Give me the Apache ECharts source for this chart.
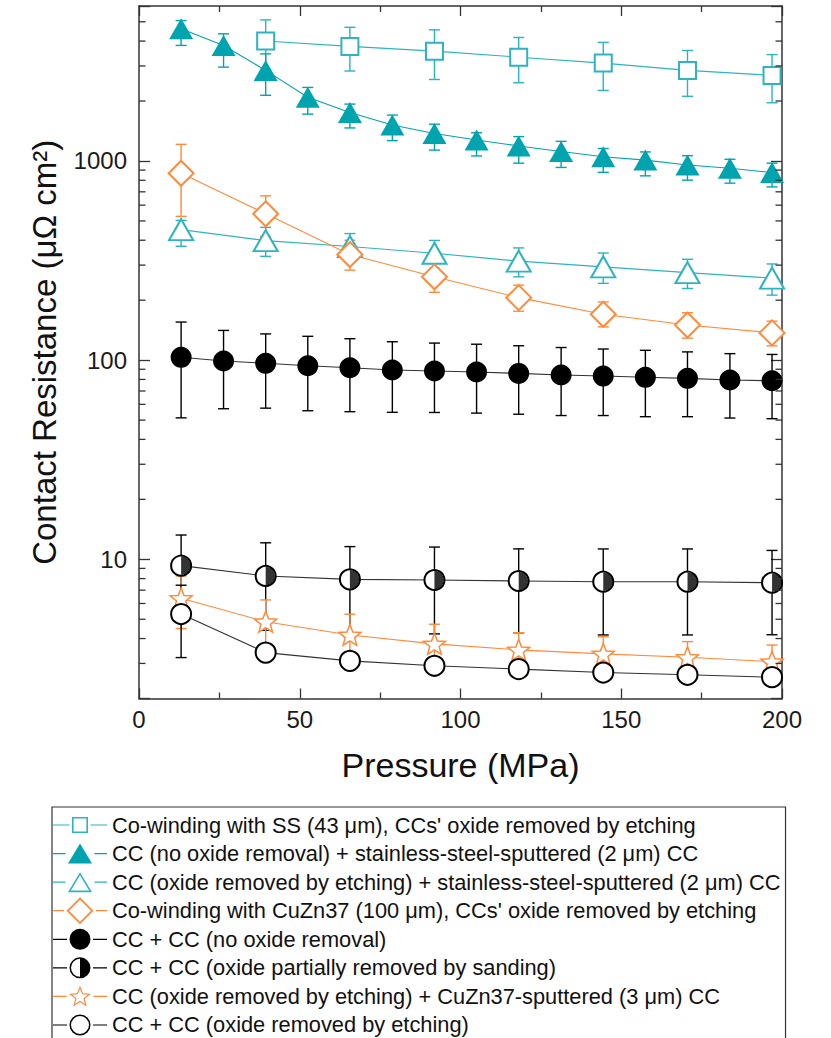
<!DOCTYPE html>
<html><head><meta charset="utf-8">
<script src="https://cdn.jsdelivr.net/npm/echarts@6/dist/echarts.min.js"></script>
<style>html,body{margin:0;padding:0;background:#fff}#c{width:831px;height:1038px}</style>
</head><body><div id="c"></div>
<script>
// ---------------- data ----------------
const pressureFull = [13.1, 26.3, 39.4, 52.5, 65.6, 78.8, 91.9, 105.0, 118.1, 131.3, 144.4, 157.5, 170.6, 183.8, 196.9];
const pressureSparse = [13.1, 39.4, 65.6, 91.9, 118.1, 144.4, 170.6, 196.9];
const pressureSS = [39.4, 65.6, 91.9, 118.1, 144.4, 170.6, 196.9];

const xTicks = [0, 50, 100, 150, 200];
const yMajorTicks = [10, 100, 1000];
const yMinorTicks = [3, 4, 5, 6, 7, 8, 9, 20, 30, 40, 50, 60, 70, 80, 90, 200, 300, 400, 500, 600, 700, 800, 900, 2000, 3000, 4000, 5000];

const names = [
  "Co-winding with SS (43 \u03bcm), CCs' oxide removed by etching",
  "CC (no oxide removal) + stainless-steel-sputtered (2 \u03bcm) CC",
  "CC (oxide removed by etching) + stainless-steel-sputtered (2 \u03bcm) CC",
  "Co-winding with CuZn37 (100 \u03bcm), CCs' oxide removed by etching",
  "CC + CC (no oxide removal)",
  "CC + CC (oxide partially removed by sanding)",
  "CC (oxide removed by etching) + CuZn37-sputtered (3 \u03bcm) CC",
  "CC + CC (oxide removed by etching)"
];

// 1 squares
const ssMean = [4000, 3760, 3560, 3320, 3100, 2850, 2690];
const ssUp   = [1110, 930, 995, 850, 840, 738, 730];
const ssDown = [1110, 930, 995, 850, 840, 738, 730];
// 2 filled triangles
const ssSputMean = [4610, 3800, 2850, 2090, 1750, 1515, 1375, 1275, 1190, 1115, 1050, 1010, 955, 920, 875];
const ssSputUp   = [460, 550, 600, 250, 180, 185, 155, 110, 135, 140, 105, 100, 108, 100, 100];
const ssSputDown = [806, 840, 713, 371, 285, 250, 241, 215, 215, 187, 173, 168, 154, 146, 134];
// 3 open triangles
const ssSputEtchMean = [452, 398, 372, 344, 314, 294, 275, 258];
const ssSputEtchUp   = [51, 66, 60, 55, 52, 51, 46, 46];
const ssSputEtchDown = [79, 66, 60, 55, 52, 51, 46, 46];
// 4 diamonds
const cuznMean = [868, 543, 339, 262, 206, 170, 150, 137];
const cuznUp   = [344, 125, 61, 45, 32, 26, 23, 20];
const cuznDown = [341, 125, 56, 43, 30, 23, 21, 19];
// 5 filled circles
const noRemovalMean = [103.3, 99, 96.4, 93.7, 91.6, 89.2, 88.2, 87.2, 85.8, 84.2, 83.2, 82.0, 81.0, 79.5, 78.8];
const noRemovalErr  = [52, 42, 39, 38, 36.5, 34.5, 33.6, 33, 32.3, 31.5, 30.5, 30, 29, 28.3, 28];
// 6 half-filled circles
const sandingMean = [9.29, 8.25, 7.93, 7.87, 7.78, 7.72, 7.72, 7.63];
const sandingErr  = [3.95, 3.85, 3.65, 3.65, 3.5, 3.55, 3.55, 3.45];
// 7 stars
const cuznSputMean = [6.37, 4.86, 4.17, 3.76, 3.51, 3.35, 3.22, 3.06];
const cuznSputErr  = [1.88, 1.39, 1.13, 0.96, 0.77, 0.74, 0.64, 0.65];
// 8 open circles
const etchMean = [5.31, 3.40, 3.09, 2.92, 2.81, 2.70, 2.63, 2.56];
const etchErr  = [2.1, 0.25, 0.2, 0.2, 0.2, 0.2, 0.2, 0.2];

// ---------------- styling ----------------
const FONT = "'Liberation Sans', Arial, Helvetica, sans-serif";
const CYAN = '#2db3c2';
const TEAL = '#00a4ae';
const ORANGE = '#ff8a3a';
const BLACK = '#000000';
const AXIS = '#333333';

function pts(xs, ys) { return xs.map((x, i) => [x, ys[i]]); }
function bars(xs, ys, up, down) { return xs.map((x, i) => [x, ys[i] - down[i], ys[i] + up[i]]); }

function errSeries(data, color) {
  return {
    type: 'custom', z: 1, silent: true, clip: false,
    encode: { x: 0, y: [1, 2] },
    data: data,
    renderItem: function (params, api) {
      const x = api.value(0), lo = api.value(1), hi = api.value(2);
      const a = api.coord([x, hi]), b = api.coord([x, lo]);
      const hw = 5.5, st = { stroke: color, lineWidth: 1.4 };
      return { type: 'group', children: [
        { type: 'line', shape: { x1: a[0], y1: a[1], x2: b[0], y2: b[1] }, style: st },
        { type: 'line', shape: { x1: a[0] - hw, y1: a[1], x2: a[0] + hw, y2: a[1] }, style: st },
        { type: 'line', shape: { x1: b[0] - hw, y1: b[1], x2: b[0] + hw, y2: b[1] }, style: st }
      ]};
    }
  };
}

// star path
function starPts(cx, cy, R, r) {
  const p = [];
  for (let i = 0; i < 10; i++) {
    const ang = -Math.PI / 2 + i * Math.PI / 5;
    const rad = i % 2 === 0 ? R : r;
    p.push([cx + rad * Math.cos(ang), cy + rad * Math.sin(ang)]);
  }
  return p;
}
function poly(p, ccw) {
  const q = ccw ? p.slice().reverse() : p;
  return 'M' + q.map(v => v[0].toFixed(2) + ' ' + v[1].toFixed(2)).join(' L') + ' Z';
}
const STAR_SYMBOL = 'path://' + poly(starPts(11, 11, 11, 4.7));

// legend icons in a 54 x 28 box
const IW = 54, IH = 28, CX = 27, CY = 14;
function anchors() { return `M0 0 L0.01 0 Z M${IW} ${IH} L${IW - 0.01} ${IH} Z `; }
function rect(x0, y0, x1, y1, ccw) {
  return ccw ? `M${x0} ${y0} L${x0} ${y1} L${x1} ${y1} L${x1} ${y0} Z ` : `M${x0} ${y0} L${x1} ${y0} L${x1} ${y1} L${x0} ${y1} Z `;
}
function stubs(hw) {
  return rect(0, CY - 0.6, CX - hw - 2.5, CY + 0.6) + rect(CX + hw + 2.5, CY - 0.6, IW, CY + 0.6);
}
function circ(r, ccw) {
  const s = ccw ? 0 : 1;
  return `M${CX - r} ${CY} A${r} ${r} 0 1 ${s} ${CX + r} ${CY} A${r} ${r} 0 1 ${s} ${CX - r} ${CY} Z `;
}
function scalePts(p, c, f) { return p.map(v => [c[0] + (v[0] - c[0]) * f, c[1] + (v[1] - c[1]) * f]); }
const triOuter = [[CX, 4], [CX + 12, 24], [CX - 12, 24]];
const diaOuter = [[CX, 0.5], [CX + 13.5, CY], [CX, 27.5], [CX - 13.5, CY]];
const starOuter = starPts(CX, CY + 0.8, 11.5, 5.0);
const starInner = starPts(CX, CY + 0.8, 8.3, 3.6);
const icons = [
  anchors() + stubs(8) + rect(19, 6, 35, 22) + rect(20.6, 7.6, 33.4, 20.4, true),
  anchors() + stubs(12) + poly(triOuter),
  anchors() + stubs(12) + poly(triOuter) + ' ' + poly(scalePts(triOuter, [CX, 17.2], 0.76), true),
  anchors() + stubs(13.5) + poly(diaOuter) + ' ' + poly(scalePts(diaOuter, [CX, CY], 0.81), true),
  anchors() + stubs(10.5) + circ(10.5),
  anchors() + stubs(10.5) + circ(10.5) + circ(9, true) + `M${CX} ${CY - 9} A9 9 0 0 1 ${CX} ${CY + 9} Z`,
  anchors() + stubs(11) + poly(starOuter) + ' ' + poly(starInner, true),
  anchors() + stubs(10.5) + circ(10.5) + circ(9, true)
].map(s => 'path://' + s);
const iconColors = [CYAN, TEAL, CYAN, ORANGE, BLACK, BLACK, ORANGE, BLACK];

function lineSeries(name, data, color, symbol, size, extra) {
  return Object.assign({
    name: name, type: 'line', z: 3, data: data, symbol: symbol, symbolSize: size,
    showAllSymbol: true, clip: false,
    lineStyle: { color: color, width: 1.1 },
    itemStyle: { color: color, borderColor: color, borderWidth: 1.5 },
    emphasis: { disabled: true }
  }, extra || {});
}

const series = [
  errSeries(bars(pressureSS, ssMean, ssUp, ssDown), CYAN),
  errSeries(bars(pressureFull, ssSputMean, ssSputUp, ssSputDown), TEAL),
  errSeries(bars(pressureSparse, ssSputEtchMean, ssSputEtchUp, ssSputEtchDown), CYAN),
  errSeries(bars(pressureSparse, cuznMean, cuznUp, cuznDown), ORANGE),
  errSeries(bars(pressureFull, noRemovalMean, noRemovalErr, noRemovalErr), BLACK),
  errSeries(bars(pressureSparse, sandingMean, sandingErr, sandingErr), BLACK),
  errSeries(bars(pressureSparse, cuznSputMean, cuznSputErr, cuznSputErr), ORANGE),
  errSeries(bars(pressureSparse, etchMean, etchErr, etchErr), BLACK),

  lineSeries(names[0], pts(pressureSS, ssMean), CYAN, 'emptyRect', 17),
  lineSeries(names[1], pts(pressureFull, ssSputMean), TEAL, 'triangle', [24, 21], { itemStyle: { color: TEAL } }),
  lineSeries(names[2], pts(pressureSparse, ssSputEtchMean), CYAN, 'emptyTriangle', [24, 21]),
  lineSeries(names[3], pts(pressureSparse, cuznMean), ORANGE, 'emptyDiamond', [25, 25]),
  lineSeries(names[4], pts(pressureFull, noRemovalMean), BLACK, 'circle', 21, { lineStyle: { color: '#333', width: 1.1 }, itemStyle: { color: BLACK } }),
  lineSeries(names[5], pts(pressureSparse, sandingMean), BLACK, 'emptyCircle', 20, { lineStyle: { color: '#333', width: 1.1 } }),
  lineSeries(names[6], pts(pressureSparse, cuznSputMean), ORANGE, STAR_SYMBOL, 22,
    { symbolKeepAspect: true, itemStyle: { color: '#ffffff', borderColor: ORANGE, borderWidth: 1.5 } }),
  lineSeries(names[7], pts(pressureSparse, etchMean), BLACK, 'emptyCircle', 20, { lineStyle: { color: '#333', width: 1.1 } }),
  // right half fill of partially sanded markers
  { type: 'scatter', z: 4, silent: true, clip: false, data: pts(pressureSparse, sandingMean),
    symbol: 'path://M0 0 A10 10 0 0 1 0 20 Z', symbolSize: [9.3, 18.6], symbolOffset: [4.65, 0],
    itemStyle: { color: BLACK } },
  // minor ticks of the log axis (left and right frame)
  { type: 'custom', z: 5, silent: true, clip: false,
    encode: { x: 0, y: 1 },
    data: yMinorTicks.map(v => [100, v]),
    renderItem: function (params, api) {
      const y = api.coord([100, api.value(1)])[1];
      const cs = params.coordSys;
      const st = { stroke: AXIS, lineWidth: 1.3 };
      return { type: 'group', children: [
        { type: 'line', shape: { x1: cs.x, y1: y, x2: cs.x + 6.5, y2: y }, style: st },
        { type: 'line', shape: { x1: cs.x + cs.width - 6.5, y1: y, x2: cs.x + cs.width, y2: y }, style: st }
      ]};
    }
  }
];

const xAxisBase = {
  type: 'value', min: xTicks[0], max: xTicks[xTicks.length - 1], interval: xTicks[1] - xTicks[0],
  axisLine: { show: true, onZero: false, lineStyle: { color: AXIS, width: 1.5 } },
  axisTick: { show: true, inside: true, length: 10, lineStyle: { color: AXIS, width: 1.3 } },
  minorTick: { show: true, splitNumber: 2, length: 6, lineStyle: { color: AXIS, width: 1.3 } },
  splitLine: { show: false }, minorSplitLine: { show: false }
};
const yAxisBase = {
  type: 'log', logBase: 10, min: 2, max: 6000,
  axisLine: { show: true, onZero: false, lineStyle: { color: AXIS, width: 1.5 } },
  axisTick: { show: true, inside: true, length: 11, lineStyle: { color: AXIS, width: 1.3 } },
  splitLine: { show: false }
};

const option = {
  animation: false,
  backgroundColor: '#ffffff',
  textStyle: { fontFamily: FONT },
  grid: { left: 139, right: 49, top: 6, bottom: 339.5, containLabel: false, outerBoundsMode: 'none' },
  xAxis: [
    Object.assign({}, xAxisBase, {
      position: 'bottom', name: 'Pressure (MPa)', nameLocation: 'middle', nameGap: 49,
      nameTextStyle: { fontSize: 34, color: '#111', fontFamily: FONT },
      axisLabel: { show: true, fontSize: 24, color: '#1a1a1a', margin: 9, fontFamily: FONT }
    }),
    Object.assign({}, xAxisBase, { position: 'top', axisLabel: { show: false } })
  ],
  yAxis: [
    Object.assign({}, yAxisBase, {
      position: 'left', name: 'Contact Resistance (\u03bc\u03a9 cm\u00b2)', nameLocation: 'middle', nameGap: 78,
      nameTextStyle: { fontSize: 33, color: '#111', fontFamily: FONT },
      axisLabel: { show: true, fontSize: 24, color: '#1a1a1a', margin: 12, fontFamily: FONT,
        formatter: function (v) { return yMajorTicks.some(t => Math.abs(t - v) < 1e-6 * t) ? String(v) : ''; } }
    }),
    Object.assign({}, yAxisBase, { position: 'right', axisLabel: { show: false } })
  ],
  legend: {
    orient: 'vertical', left: 52, top: 807, height: 300,
    padding: [4, 5, 8, 1], itemWidth: IW, itemHeight: IH, itemGap: 0.57,
    borderColor: '#333', borderWidth: 1.2, backgroundColor: '#fff',
    selectedMode: false,
    itemStyle: { borderWidth: 0 },
    textStyle: { fontSize: 21.8, color: '#111', fontFamily: FONT },
    data: names.map((n, i) => ({ name: n, icon: icons[i], itemStyle: { color: iconColors[i], borderWidth: 0 } }))
  },
  series: series
};

const chart = echarts.init(document.getElementById('c'), null, { renderer: 'svg' });
chart.setOption(option);
</script>
</body></html>
